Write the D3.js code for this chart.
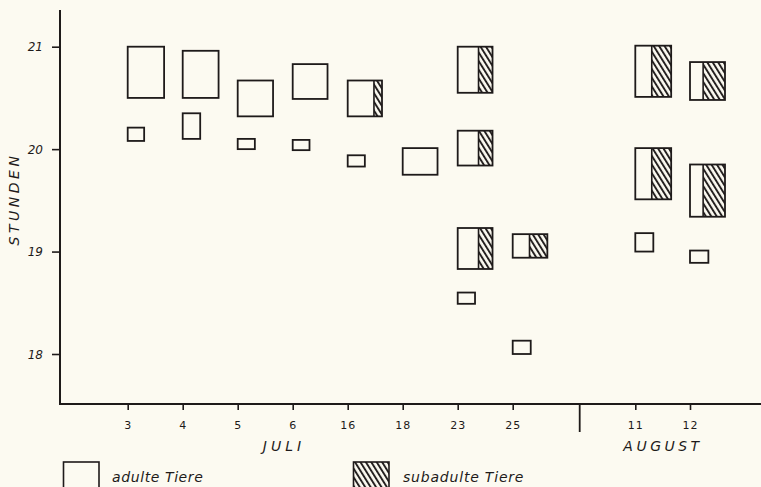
<!DOCTYPE html>
<html><head><meta charset="utf-8">
<script src="https://cdn.jsdelivr.net/npm/d3@7"></script>
<style>
html,body{margin:0;padding:0;background:#fcfaf1;}
svg{display:block;}
text{font-family:"DejaVu Sans",sans-serif;fill:#1e1a1a;}
</style></head>
<body>
<script>
// ---- data ----
const julyDays = ["3","4","5","6","16","18","23","25"];
const augustDays = ["11","12"];
const yTicks = [18, 19, 20, 21];
// each box: month, day, start hour, end hour, adult width (animals), subadult width (animals)
const boxMonth = ["J","J","J","J","J","J","J","J","J","J","J","J","J","J","J","J","J","A","A","A","A","A","A"];
const boxDay   = ["3","3","4","4","5","5","6","6","16","16","18","23","23","23","23","25","25","11","11","11","12","12","12"];
const boxStart = [20.50,20.08,20.50,20.10,20.32,20.00,20.49,19.99,20.32,19.83,19.75,20.55,19.84,18.83,18.49,18.94,18.00,20.51,19.51,19.00,20.48,19.34,18.89];
const boxEnd   = [21.00,20.21,20.96,20.35,20.67,20.10,20.83,20.09,20.67,19.94,20.01,21.00,20.18,19.23,18.60,19.17,18.13,21.01,20.01,19.18,20.85,19.85,19.01];
const adultW   = [2.08,0.94,2.05,1.00,2.02,0.98,1.99,0.96,1.50,0.98,1.99,1.19,1.19,1.19,0.99,0.96,1.03,0.94,0.94,1.03,0.75,0.75,1.05];
const subW     = [0,0,0,0,0,0,0,0,0.46,0,0,0.80,0.80,0.80,0,1.02,0,1.11,1.11,0,1.25,1.25,0];
const legendLabels = ["adulte Tiere","subadulte Tiere"];

// ---- layout ----
const W = 761, H = 487;
const svg = d3.select("body").append("svg").attr("width", W).attr("height", H);
const ink = "#1e1a1a";

const defs = svg.append("defs");
const pat = defs.append("pattern").attr("id","hatch").attr("patternUnits","userSpaceOnUse")
  .attr("width",4.6).attr("height",4.6).attr("patternTransform","rotate(-32)");
pat.append("line").attr("x1",1).attr("y1",0).attr("x2",1).attr("y2",4.6)
  .attr("stroke",ink).attr("stroke-width",1.9);

const y = d3.scaleLinear().domain([18, 21]).range([354, 46.7]);
const xJ = d3.scalePoint().domain(julyDays).range([127.7, 512.7]);
const xA = d3.scalePoint().domain(augustDays).range([635.3, 690]);
const wScale = d3.scaleLinear().domain([0, 2]).range([0, 35]);
const xOf = (m, d) => m === "J" ? xJ(d) : xA(d);

// axes
const axisX0 = 60, axisY0 = 404;
svg.append("line").attr("x1",axisX0).attr("y1",10).attr("x2",axisX0).attr("y2",axisY0)
  .attr("stroke",ink).attr("stroke-width",2);
svg.append("line").attr("x1",axisX0-1).attr("y1",axisY0).attr("x2",W).attr("y2",axisY0)
  .attr("stroke",ink).attr("stroke-width",2);

const yAxis = d3.axisLeft(y).tickValues(yTicks).tickSize(8).tickFormat(d3.format("d"));
const gy = svg.append("g").attr("transform",`translate(${axisX0},0)`).call(yAxis);
gy.select(".domain").remove();
gy.selectAll(".tick line").attr("stroke",ink).attr("stroke-width",1.6);
gy.selectAll(".tick text").attr("x",-17).attr("dy","0.35em").style("font-size","12px").style("font-style","italic").attr("fill",ink);

function dayAxis(scale){
  const a = d3.axisBottom(scale).tickSize(6).tickPadding(11);
  const g = svg.append("g").attr("transform",`translate(0,${axisY0})`).call(a);
  g.select(".domain").remove();
  g.selectAll(".tick line").attr("stroke",ink).attr("stroke-width",1.6);
  g.selectAll(".tick text").style("font-size","11px").attr("fill",ink).attr("letter-spacing","1px");
}
dayAxis(xJ); dayAxis(xA);

// month separator
svg.append("line").attr("x1",579.7).attr("x2",579.7).attr("y1",axisY0).attr("y2",432)
  .attr("stroke",ink).attr("stroke-width",1.8);

// month labels
svg.append("text").attr("x",284).attr("y",451).attr("text-anchor","middle")
  .style("font-size","14px").style("font-style","italic").attr("letter-spacing","4px").text("JULI");
svg.append("text").attr("x",663).attr("y",451).attr("text-anchor","middle")
  .style("font-size","14px").style("font-style","italic").attr("letter-spacing","3.5px").text("AUGUST");

// y label
svg.append("text").attr("transform","translate(19,199) rotate(-90)").attr("text-anchor","middle")
  .style("font-size","14px").style("font-style","italic").attr("letter-spacing","3.5px").text("STUNDEN");

// boxes
const boxes = boxDay.map((d,i)=>({m:boxMonth[i], d, s:boxStart[i], e:boxEnd[i], a:adultW[i], b:subW[i]}));
const gb = svg.append("g");
boxes.forEach(bx=>{
  const x0 = xOf(bx.m, bx.d);
  const yt = y(bx.e), yb = y(bx.s);
  const wa = wScale(bx.a), ws = wScale(bx.b);
  if (ws > 0) {
    gb.append("rect").attr("x",x0+wa).attr("y",yt).attr("width",ws).attr("height",yb-yt)
      .attr("fill","url(#hatch)").attr("stroke","none");
    gb.append("line").attr("x1",x0+wa).attr("x2",x0+wa).attr("y1",yt).attr("y2",yb)
      .attr("stroke",ink).attr("stroke-width",1.6);
  }
  gb.append("rect").attr("x",x0).attr("y",yt).attr("width",wa+ws).attr("height",yb-yt)
    .attr("fill","none").attr("stroke",ink).attr("stroke-width",1.8);
});

// legend
const lg = svg.append("g");
lg.append("rect").attr("x",63.5).attr("y",462).attr("width",35.5).attr("height",30)
  .attr("fill","none").attr("stroke",ink).attr("stroke-width",1.6);
lg.append("text").attr("x",112).attr("y",482).style("font-size","14px").style("font-style","italic")
  .attr("letter-spacing","0.6px").text(legendLabels[0]);
lg.append("rect").attr("x",353.5).attr("y",462).attr("width",35.5).attr("height",30)
  .attr("fill","url(#hatch)").attr("stroke",ink).attr("stroke-width",1.6);
lg.append("text").attr("x",403).attr("y",482).style("font-size","14px").style("font-style","italic")
  .attr("letter-spacing","0.8px").text(legendLabels[1]);
</script>
</body></html>
